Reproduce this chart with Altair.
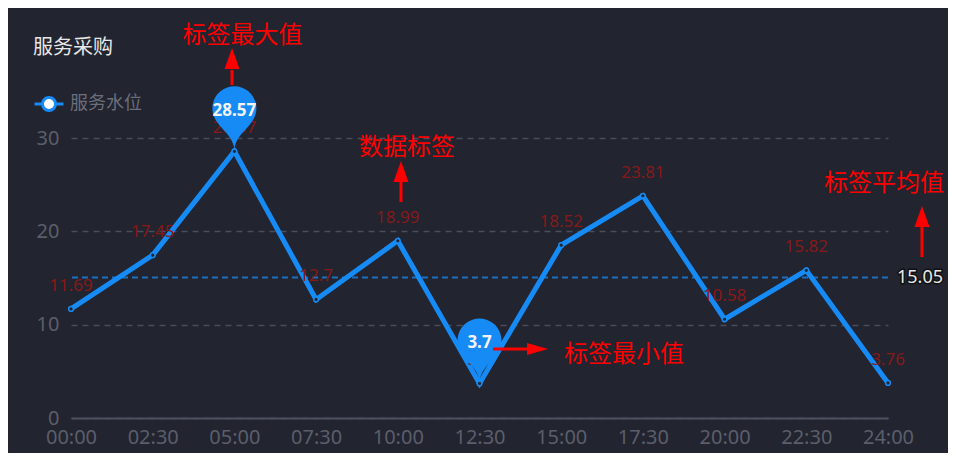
import json
import altair as alt
import pandas as pd

# ---------------- data ----------------
times = ["00:00", "02:30", "05:00", "07:30", "10:00", "12:30",
         "15:00", "17:30", "20:00", "22:30", "24:00"]
values = [11.69, 17.45, 28.57, 12.7, 18.99, 3.7, 18.52, 23.81, 10.58, 15.82, 3.76]
series_name = "服务水位"
chart_title = "服务采购"
y_ticks = [0, 10, 20, 30]

# annotations (in data coordinates: category index, value)
ann_texts = ["标签最大值", "数据标签", "标签最小值", "标签平均值"]
ann_x = [2.099, 4.113, 6.769, 9.951]
ann_y = [40.93, 28.93, 6.75, 25.07]

arrow_tail_x = [1.971, 4.039, 5.165, 10.416]
arrow_tail_y = [35.68, 23.14, 7.39, 17.25]
arrow_base_x = [1.971, 4.039, 5.581, 10.416]
arrow_base_y = [37.29, 25.29, 7.39, 20.46]
arrow_head_x = [1.971, 4.039, 5.710, 10.416]
arrow_head_y = [38.47, 26.36, 7.39, 21.54]
arrow_dir = ["up", "up", "right", "up"]

# ---------------- styles ----------------
BG = "#22242f"
BLUE = "#178bf5"
AVG_BLUE = "#1d6fbf"
AXIS_GRAY = "#5b5e6b"
GRID_GRAY = "#4a4d5a"
LABEL_RED = "#861a1a"
ANN_RED = "#ff0000"
NUM_FONT = "Noto Sans"
CJK_FONT = "Noto Sans CJK SC"

PIN_PATH = ("M-0.907,-1.534 A1,1 0 1,1 0.907,-1.534 "
            "C0.654,-0.990 0,-0.7 0,0 "
            "C0,-0.7 -0.654,-0.990 -0.907,-1.534 Z")
UP_PATH = "M0,-1.1 L0.75,1 L-0.75,1 Z"
RIGHT_PATH = "M1.05,0 L-1.05,-0.6 L-1.05,0.6 Z"
LEGEND_PATH = ("M-2,0L-0.9,0M0.9,0L2,0M-0.9,0"
               "A0.9,0.9,0,1,1,0.9,0A0.9,0.9,0,1,1,-0.9,0Z")

idx = list(range(len(times)))
df = pd.DataFrame({"i": idx, "t": times, "v": values, "series": series_name})
avg = round(sum(values) / len(values), 2)
imax = values.index(max(values))
imin = values.index(min(values))
pins = pd.DataFrame({"i": [imax, imin],
                     "v": [values[imax], values[imin]],
                     "lab": [f"{values[imax]:g}", f"{values[imin]:g}"]})
ann = pd.DataFrame({"x": ann_x, "y": ann_y, "text": ann_texts})
arrows = pd.DataFrame({"x": arrow_tail_x, "y": arrow_tail_y,
                       "x2": arrow_base_x, "y2": arrow_base_y,
                       "hx": arrow_head_x, "hy": arrow_head_y, "dir": arrow_dir})
avg_df = pd.DataFrame({"v": [avg], "i": [idx[-1]], "lab": [f"{avg:.2f}"]})

label_expr = f"{json.dumps(times)}[datum.value]"

xscale = alt.Scale(domain=[idx[0], idx[-1]], nice=False, zero=False)
yscale = alt.Scale(domain=[y_ticks[0], y_ticks[-1]], nice=False)

x_axis = alt.Axis(values=idx, labelExpr=label_expr, title=None, grid=False,
                  ticks=False, domain=True, domainColor="#4d5060", domainWidth=2,
                  labelColor=AXIS_GRAY, labelFontSize=20, labelFont=NUM_FONT,
                  labelPadding=9, labelFlush=False, labelOverlap=False)
y_axis = alt.Axis(values=y_ticks, title=None, grid=True, gridColor=GRID_GRAY,
                  gridDash=[6, 5], gridWidth=1.5, domain=False, ticks=False,
                  labelColor=AXIS_GRAY, labelFontSize=20, labelFont=NUM_FONT,
                  labelPadding=12)

base = alt.Chart(df)

line = base.mark_line(strokeWidth=5).encode(
    x=alt.X("i:Q", scale=xscale, axis=x_axis),
    y=alt.Y("v:Q", scale=yscale, axis=y_axis),
    color=alt.Color("series:N",
                    scale=alt.Scale(domain=[series_name], range=[BLUE]),
                    legend=alt.Legend(orient="none", legendX=-31, legendY=-43,
                                      title=None, padding=0,
                                      symbolType=LEGEND_PATH, symbolSize=210,
                                      symbolFillColor="#ffffff",
                                      symbolStrokeColor=BLUE,
                                      symbolStrokeWidth=3,
                                      labelFont=CJK_FONT, labelFontSize=18,
                                      labelColor="#6b6e7a", labelOffset=12)),
)

avg_rule = alt.Chart(avg_df).mark_rule(color=AVG_BLUE, strokeWidth=2,
                                       strokeDash=[6, 4]).encode(y="v:Q")

markers = base.mark_point(filled=False, fill=BG, stroke=BLUE, strokeWidth=1.5,
                          size=22, opacity=1).encode(x="i:Q", y="v:Q")

labels = base.mark_text(dy=-23, color=LABEL_RED, fontSize=17,
                        font=NUM_FONT).encode(x="i:Q", y="v:Q",
                                               text=alt.Text("v:Q", format="~g"))

pin_marks = alt.Chart(pins).mark_point(shape=PIN_PATH, size=1936, filled=True,
                                       color=BLUE, opacity=1).encode(x="i:Q", y="v:Q")
pin_text = alt.Chart(pins).mark_text(dy=-40, color="#f4f4f4", fontSize=17,
                                     fontWeight="bold", font=NUM_FONT).encode(
    x="i:Q", y="v:Q", text="lab:N")

avg_outline = alt.Chart(avg_df).mark_text(align="left", baseline="middle", dx=9,
                                          fontSize=18, font=NUM_FONT,
                                          stroke="#111111", strokeWidth=3,
                                          fill="#111111").encode(
    x="i:Q", y="v:Q", text="lab:N")
avg_text = alt.Chart(avg_df).mark_text(align="left", baseline="middle", dx=9,
                                       fontSize=18, font=NUM_FONT,
                                       color="#e8e8e8").encode(
    x="i:Q", y="v:Q", text="lab:N")

title = alt.Chart(pd.DataFrame({"t": [chart_title]})).mark_text(
    align="left", baseline="middle", fontSize=20, font=CJK_FONT,
    color="#e8e8e8").encode(x=alt.value(-38), y=alt.value(-90), text="t:N")

ann_text = alt.Chart(ann).mark_text(color=ANN_RED, fontSize=24, font=CJK_FONT,
                                    baseline="middle").encode(
    x="x:Q", y="y:Q", text="text:N")
shafts = alt.Chart(arrows).mark_rule(color=ANN_RED, strokeWidth=3).encode(
    x="x:Q", y="y:Q", x2="x2:Q", y2="y2:Q")
heads = alt.Chart(arrows).mark_point(filled=True, color=ANN_RED, size=400,
                                     opacity=1).encode(
    x="hx:Q", y="hy:Q",
    shape=alt.Shape("dir:N", scale=alt.Scale(domain=["up", "right"],
                                             range=[UP_PATH, RIGHT_PATH]),
                    legend=None))

chart = alt.layer(
    avg_rule, line, markers, labels, pin_marks, pin_text,
    avg_outline, avg_text, title, ann_text, shafts, heads
).properties(
    width=817, height=280,
    autosize=alt.AutoSizeParams(type="none"),
    padding={"left": 63, "top": 130, "right": 60, "bottom": 35},
    background=BG,
).configure_view(strokeWidth=0)

chart.save("out.html", embed_options={"renderer": "svg", "actions": False})
